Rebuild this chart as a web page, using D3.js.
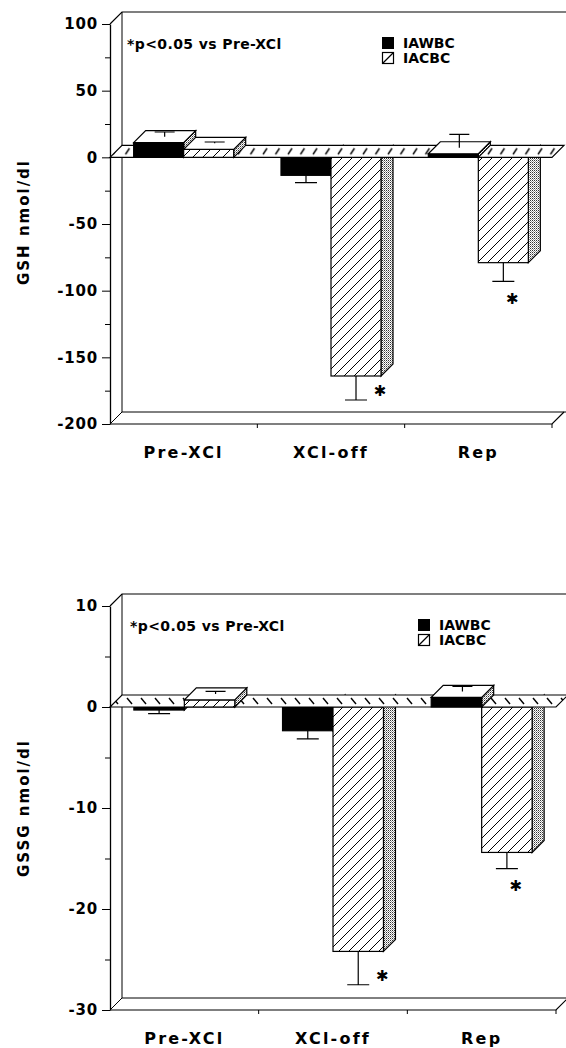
<!DOCTYPE html>
<html><head><meta charset="utf-8">
<script src="https://cdn.jsdelivr.net/npm/d3@7"></script>
<style>body{margin:0;background:#fff}text{font-family:"DejaVu Sans",sans-serif;font-weight:bold;fill:#000}</style>
</head><body>
<svg id="c" width="566" height="1048"></svg>
<script>
// ---- data ----
const categories = ["Pre-XCl", "XCl-off", "Rep"];
const series = ["IAWBC", "IACBC"];
const gshIAWBC = [11, -13.5, 2.7];
const gshIAWBCErr = [3.5, 5.5, 10];
const gshIACBC = [6, -164, -79];
const gshIACBCErr = [1, 18, 14];
const gshSig = [false, true, true];
const gssgIAWBC = [-0.3, -2.35, 0.95];
const gssgIAWBCErr = [0.35, 0.8, 0.5];
const gssgIACBC = [0.7, -24.2, -14.4];
const gssgIACBCErr = [0.25, 3.3, 1.6];
const gssgSig = [false, true, true];
const gshTicks = [100, 50, 0, -50, -100, -150, -200];
const gshMinor = [75, 25, -25, -75, -125, -175];
const gssgTicks = [10, 0, -10, -20, -30];
const gssgMinor = [5, -5, -15, -25];
const noteText = "*p<0.05 vs Pre-XCl";

const svg = d3.select("#c");
const W = 566, DX = 12, DY = 12;
const defs = svg.append("defs");
// hatch for IACBC
const ph = defs.append("pattern").attr("id","hatch").attr("patternUnits","userSpaceOnUse").attr("width",10).attr("height",10);
ph.append("rect").attr("width",10).attr("height",10).attr("fill","#fff");
ph.append("path").attr("d","M0,10L10,0M-5,5L5,-5M5,15L15,5").attr("stroke","#000").attr("stroke-width",1);
// stipple for side faces
const ps = defs.append("pattern").attr("id","stip").attr("patternUnits","userSpaceOnUse").attr("width",2).attr("height",2);
ps.append("rect").attr("width",2).attr("height",2).attr("fill","#fff");
ps.append("rect").attr("width",1).attr("height",1).attr("fill","#333");
ps.append("rect").attr("x",1).attr("y",1).attr("width",1).attr("height",1).attr("fill","#999");

function makePlanePattern(id, x0, ytop, slash, step){
  const p = defs.append("pattern").attr("id",id).attr("patternUnits","userSpaceOnUse")
    .attr("width",step).attr("height",DY).attr("patternTransform",`translate(${x0},${ytop})`);
  p.append("rect").attr("width",step).attr("height",DY).attr("fill","#fff");
  p.append("path").attr("d", slash ? "M3,9L7,3" : "M3,3L8,9").attr("stroke","#000").attr("stroke-width",1.4);
}

function panel(cfg){
  const g = svg.append("g");
  const y = d3.scaleLinear().domain(cfg.domain).range([cfg.bottom, cfg.top]);
  const x = d3.scaleBand().domain(categories).range([cfg.x0, cfg.xR]).paddingInner(0).paddingOuter(0);
  const xs = d3.scaleBand().domain(series).range([0, x.bandwidth()]).paddingInner(0).paddingOuter(0.473);
  const yTop = y(cfg.domain[1]), yBot = y(cfg.domain[0]), y0 = y(0);
  const x0 = cfg.x0, xR = cfg.xR;
  const line = (d, sw) => g.append("path").attr("d", d).attr("fill","none").attr("stroke","#000").attr("stroke-width", sw||1);

  // back wall & floor
  line(`M${x0},${yTop}L${x0+DX},${yTop-DY}H${W+5}`, 1.2);
  line(`M${x0+DX},${yTop-DY}V${yBot-DY}H${W+5}`, 1);
  line(`M${x0},${yBot}L${x0+DX},${yBot-DY}`, 1);
  line(`M${x0},${yBot}H${xR}L${xR+DX},${yBot-DY}`, 1.2);
  categories.slice(1).forEach(c => line(`M${x(c)},${yBot}V${yBot+4}`, 1));
  line(`M${xR},${yBot}V${yBot+4}`, 1);

  // y axis
  const fmt = v => String(v).replace("\u2212","-");
  const ax = g.append("g").attr("transform",`translate(${x0},0)`)
    .call(d3.axisLeft(y).tickValues(cfg.ticks).tickSize(8).tickSizeOuter(0).tickPadding(4).tickFormat(fmt));
  ax.select(".domain").attr("stroke-width",1.3);
  ax.selectAll("text").attr("font-size",15).attr("letter-spacing",0.8).style("font-family","DejaVu Sans").attr("font-weight","bold");
  const axm = g.append("g").attr("transform",`translate(${x0},0)`)
    .call(d3.axisLeft(y).tickValues(cfg.minor).tickSize(5).tickFormat(""));
  axm.select(".domain").remove();

  // x labels
  const axx = g.append("g").attr("transform",`translate(0,${yBot})`)
    .call(d3.axisBottom(x).tickSize(0).tickPadding(0));
  axx.select(".domain").remove();
  axx.selectAll("text").attr("y",28).attr("dy","0.35em").attr("font-size",16).attr("letter-spacing",2.2)
    .style("font-family","DejaVu Sans").attr("font-weight","bold");

  // bars
  const bars = [];
  categories.forEach((c,i) => {
    cfg.vals.forEach((arr, s) => {
      bars.push({c, s, v: arr[i], e: cfg.errs[s][i], sig: s===1 && cfg.sig[i],
        xl: x(c) + xs(series[s]), w: xs.bandwidth()});
    });
  });
  function drawBar(b){
    const yv = y(b.v), xr = b.xl + b.w;
    g.append("path").attr("d",`M${xr},${y0}L${xr+DX},${y0-DY}L${xr+DX},${yv-DY}L${xr},${yv}Z`)
      .attr("fill","url(#stip)").attr("stroke","#000").attr("stroke-width",1.2);
    g.append("rect").attr("x",b.xl).attr("y",Math.min(yv,y0)).attr("width",b.w).attr("height",Math.abs(yv-y0))
      .attr("fill", b.s===0 ? "#000" : "url(#hatch)").attr("stroke","#000").attr("stroke-width",1.2);
    if (b.v > 0){
      g.append("path").attr("d",`M${b.xl},${yv}H${xr}L${xr+DX},${yv-DY}H${b.xl+DX}Z`)
        .attr("fill","#fff").attr("stroke","#000").attr("stroke-width",1.2);
    }
  }
  bars.filter(b => b.v < 0).forEach(drawBar);
  makePlanePattern(cfg.id+"pl", x0, y0-DY, cfg.slash, cfg.step);
  g.append("path").attr("d",`M${x0},${y0}H${xR}L${xR+DX},${y0-DY}H${x0+DX}Z`)
    .attr("fill",`url(#${cfg.id}pl)`).attr("stroke","#000").attr("stroke-width",1.2);
  bars.filter(b => b.v >= 0).forEach(drawBar);

  // error bars
  bars.forEach(b => {
    const xc = b.xl + b.w/2;
    if (b.v >= 0){
      const xe = xc + DX/2, ya = y(b.v) - DY/2, yb = y(b.v + b.e) - DY/2;
      line(`M${xe},${ya}V${yb}M${xe-10},${yb}H${xe+10}`, 1.2);
    } else {
      const ya = y(b.v), yb = y(b.v - b.e);
      line(`M${xc},${ya}V${yb}M${xc-11},${yb}H${xc+11}`, 1.2);
      if (b.sig){
        const long = (yb - ya) > 22;
        g.append("text").attr("x", long ? xc+24 : xc+9).attr("y", long ? yb-9 : yb+17)
          .attr("text-anchor","middle").attr("dy","0.35em").attr("font-size",15).text("\u2731");
      }
    }
  });

  // note & legend
  g.append("text").attr("x",cfg.noteX).attr("y",yTop+20).attr("dy","0.35em").attr("font-size",14)
    .attr("letter-spacing",0.4).text(noteText);
  const lx = cfg.legX, ly = yTop + 13;
  g.append("rect").attr("x",lx).attr("y",ly).attr("width",12).attr("height",12).attr("fill","#000");
  g.append("rect").attr("x",lx+0.5).attr("y",ly+15.5).attr("width",11).attr("height",11).attr("fill","#fff").attr("stroke","#000").attr("stroke-width",1.2);
  line(`M${lx+0.5},${ly+26.5}L${lx+11.5},${ly+15.5}`, 1.2);
  g.append("text").attr("x",lx+21).attr("y",ly+6).attr("dy","0.35em").attr("font-size",14).text(series[0]);
  g.append("text").attr("x",lx+21).attr("y",ly+21).attr("dy","0.35em").attr("font-size",14).text(series[1]);

  // y title
  g.append("text").attr("transform",`translate(24,${cfg.titleY}) rotate(-90)`).attr("text-anchor","middle")
    .attr("dy","0.35em").attr("font-size",15).attr("letter-spacing",2).text(cfg.title);
}

panel({id:"a", domain:[-200,100], top:24, bottom:424, x0:110, xR:552, ticks:gshTicks, minor:gshMinor,
  vals:[gshIAWBC, gshIACBC], errs:[gshIAWBCErr, gshIACBCErr], sig:gshSig, slash:true, step:12.5,
  noteX:127, legX:382, title:"GSH nmol/dl", titleY:222});
panel({id:"b", domain:[-30,10], top:606, bottom:1010, x0:110, xR:556, ticks:gssgTicks, minor:gssgMinor,
  vals:[gssgIAWBC, gssgIACBC], errs:[gssgIAWBCErr, gssgIACBCErr], sig:gssgSig, slash:false, step:14,
  noteX:130, legX:418, title:"GSSG nmol/dl", titleY:808});
</script>
</body></html>
